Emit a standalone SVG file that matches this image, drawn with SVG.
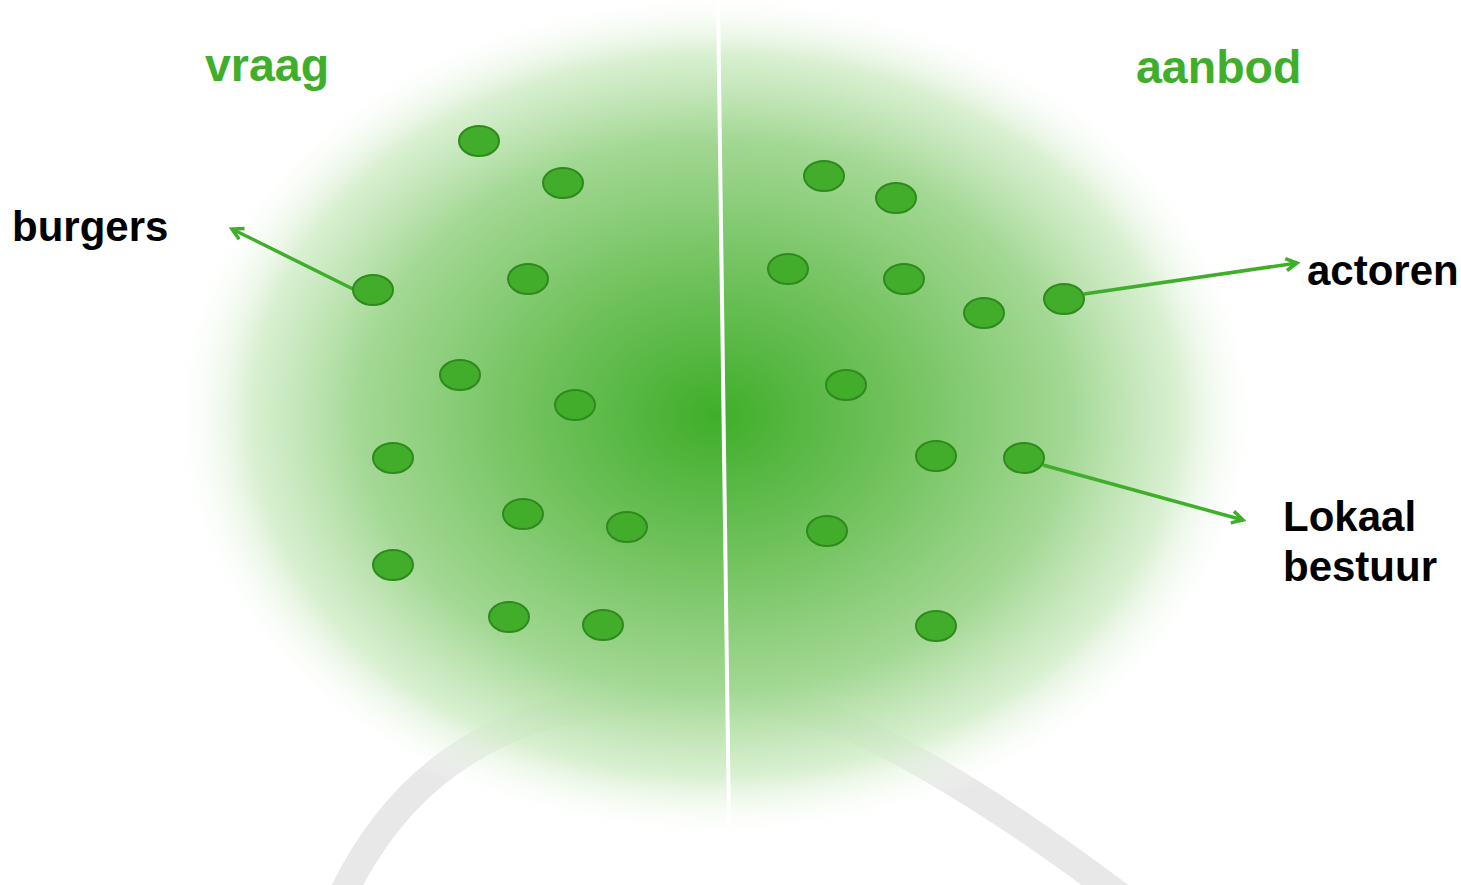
<svg xmlns="http://www.w3.org/2000/svg" width="1461" height="885" viewBox="0 0 1461 885">
<style>
.dot{fill:#42ad2a;stroke:#2f8a1e;stroke-width:2}
.lbl{font-family:"Liberation Sans",Arial,sans-serif;font-weight:bold;font-size:42px;fill:#000}
.ttl{font-family:"Liberation Sans",Arial,sans-serif;font-weight:bold;font-size:46.5px;fill:#3fae2a}
.con{stroke:#3fae2a;stroke-width:3.5;fill:none;marker-end:url(#ah)}
</style>
<defs>
<radialGradient id="blob" cx="0.5" cy="0.5" r="0.5">
<stop offset="0" stop-color="#3fae2a"/>
<stop offset="0.35" stop-color="#73c35f"/>
<stop offset="0.65" stop-color="#a3d894"/>
<stop offset="0.85" stop-color="#d2edc9" stop-opacity="0.85"/>
<stop offset="1" stop-color="#ffffff" stop-opacity="0"/>
</radialGradient>
<marker id="ah" markerWidth="16" markerHeight="16" refX="13" refY="8" orient="auto" markerUnits="userSpaceOnUse">
<path d="M2 2 L13 8 L2 14" fill="none" stroke="#3fae2a" stroke-width="3.5"/>
</marker>
</defs>
<rect width="1461" height="885" fill="#fff"/>
<g id="arcs" fill="none" stroke="#e8e8e8" stroke-width="28">
<path d="M340 900 Q410 750 560 712 Q620 698 660 695"/>
<path d="M760 700 Q800 708 840 722 Q960 775 1125 900"/>
</g>
<g id="blob-bg">
<ellipse cx="715" cy="415" rx="545" ry="425" fill="url(#blob)"/>
<line x1="718" y1="0" x2="729" y2="825" stroke="#fff" stroke-width="4"/>
</g>
<g id="titles">
<text id="vraag" class="ttl" x="205" y="81">vraag</text>
<text id="aanbod" class="ttl" x="1136" y="83">aanbod</text>
</g>
<g id="connectors">
<line class="con" x1="355" y1="290" x2="232" y2="229"/>
<line class="con" x1="1084" y1="294" x2="1297" y2="263"/>
<line class="con" x1="1043" y1="465" x2="1243" y2="520"/>
</g>
<g id="vraag-dots">
<ellipse class="dot" cx="479" cy="141" rx="20" ry="15"/>
<ellipse class="dot" cx="563" cy="183" rx="20" ry="15"/>
<ellipse class="dot" cx="373" cy="290" rx="20" ry="15"/>
<ellipse class="dot" cx="528" cy="279" rx="20" ry="15"/>
<ellipse class="dot" cx="460" cy="375" rx="20" ry="15"/>
<ellipse class="dot" cx="575" cy="405" rx="20" ry="15"/>
<ellipse class="dot" cx="393" cy="458" rx="20" ry="15"/>
<ellipse class="dot" cx="523" cy="514" rx="20" ry="15"/>
<ellipse class="dot" cx="627" cy="527" rx="20" ry="15"/>
<ellipse class="dot" cx="393" cy="565" rx="20" ry="15"/>
<ellipse class="dot" cx="509" cy="617" rx="20" ry="15"/>
<ellipse class="dot" cx="603" cy="625" rx="20" ry="15"/>
</g>
<g id="aanbod-dots">
<ellipse class="dot" cx="824" cy="176" rx="20" ry="15"/>
<ellipse class="dot" cx="896" cy="198" rx="20" ry="15"/>
<ellipse class="dot" cx="788" cy="269" rx="20" ry="15"/>
<ellipse class="dot" cx="904" cy="279" rx="20" ry="15"/>
<ellipse class="dot" cx="984" cy="313" rx="20" ry="15"/>
<ellipse class="dot" cx="1064" cy="299" rx="20" ry="15"/>
<ellipse class="dot" cx="846" cy="385" rx="20" ry="15"/>
<ellipse class="dot" cx="936" cy="456" rx="20" ry="15"/>
<ellipse class="dot" cx="1024" cy="458" rx="20" ry="15"/>
<ellipse class="dot" cx="827" cy="531" rx="20" ry="15"/>
<ellipse class="dot" cx="936" cy="626" rx="20" ry="15"/>
</g>
<g id="labels">
<text id="burgers" class="lbl" x="12" y="241">burgers</text>
<text id="actoren" class="lbl" x="1307" y="285">actoren</text>
<text id="lokaal" class="lbl" x="1283" y="531">Lokaal<tspan x="1283" y="581">bestuur</tspan></text>
</g>
</svg>
